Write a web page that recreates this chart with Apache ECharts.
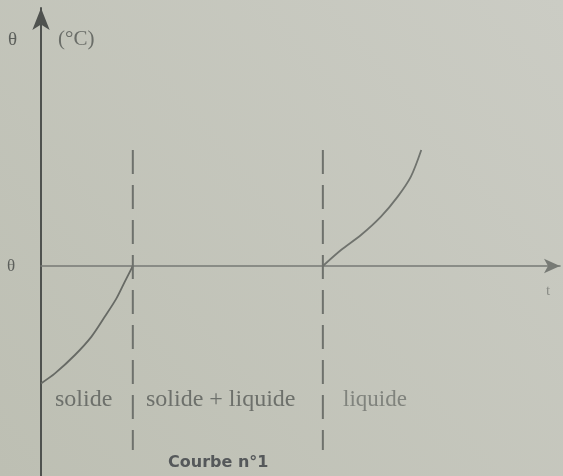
<!DOCTYPE html>
<html>
<head>
<meta charset="utf-8">
<script src="https://cdn.jsdelivr.net/npm/echarts@6/dist/echarts.min.js"></script>
<style>
    html, body { margin: 0; padding: 0; }
    #main { width: 563px; height: 476px; }
</style>
</head>
<body>
<div id="main"></div>
<script>
// courbe de chauffage : solide -> fusion -> liquide
var solide_t = [0, 0.7, 1.7, 2.53, 3.2, 3.78, 4.2, 4.6];
var solide_theta = [-5.87, -5.37, -4.45, -3.53, -2.53, -1.62, -0.78, 0];
var liquide_t = [14.12, 15.03, 16.03, 17.03, 17.87, 18.53, 19.05];
var liquide_theta = [0, 0.8, 1.55, 2.47, 3.47, 4.47, 5.8];
// debut et fin de la fusion
var fusion_t = [4.6, 14.12];
var dash_theta = [5.8, -9.2];
var zones = ["solide", "solide + liquide", "liquide"];

var myChart = echarts.init(document.getElementById("main"));

function pairs(xs, ys) {
    var out = [];
    for (let i = 0; i < xs.length; i++) {
        out.push([xs[i], ys[i]]);
    }
    return out;
}

var inkColor = "#5c5f5b";
var serif = "Liberation Serif";

var series = [
    {
        type: "line",
        data: pairs(solide_t, solide_theta),
        smooth: 0.3,
        symbol: "none",
        lineStyle: { color: "#676a65", width: 1.8 },
    },
    {
        type: "line",
        data: pairs(liquide_t, liquide_theta),
        smooth: 0.3,
        symbol: "none",
        lineStyle: { color: "#70736e", width: 1.8 },
    },
];
for (let i = 0; i < fusion_t.length; i++) {
    series.push({
        type: "line",
        data: [
            [fusion_t[i], dash_theta[0]],
            [fusion_t[i], dash_theta[1]],
        ],
        symbol: "none",
        lineStyle: { color: "#6e716c", width: 2, type: [24, 11] },
    });
}

var option = {
    backgroundColor: {
        type: "linear", x: 1, y: 0, x2: 0, y2: 1,
        colorStops: [
            { offset: 0, color: "#cbccc4" },
            { offset: 1, color: "#bdbfb3" },
        ],
    },
    animation: false,
    grid: { left: 41, right: 3, top: 8, bottom: 0 },
    xAxis: {
        type: "value",
        min: 0,
        max: 26,
        axisLine: {
            onZero: true,
            symbol: ["none", "arrow"],
            symbolSize: [11, 16],
            lineStyle: { color: "#777a75", width: 1.6 },
        },
        axisTick: { show: false },
        axisLabel: { show: false },
        splitLine: { show: false },
    },
    yAxis: {
        type: "value",
        min: -10.5,
        max: 12.9,
        axisLine: {
            onZero: false,
            symbol: ["none", "arrow"],
            symbolSize: [13, 22],
            lineStyle: { color: "#4f524f", width: 2 },
        },
        axisTick: { show: false },
        axisLabel: { show: false },
        splitLine: { show: false },
    },
    graphic: [
        {
            type: "text", left: 8, top: 31,
            style: { text: "θ", font: "19px " + serif, fill: inkColor },
        },
        {
            type: "text", left: 58, top: 29,
            style: { text: "(°C)", font: "21px " + serif, fill: "#6a6d68" },
        },
        {
            type: "text", left: 7, top: 258,
            style: { text: "θ", font: "17px " + serif, fill: inkColor },
        },
        {
            type: "text", left: 546, top: 284,
            style: { text: "t", font: "15px " + serif, fill: "#8a8c86" },
        },
        {
            type: "text", left: 55, top: 388,
            style: { text: zones[0], font: "24px " + serif, fill: "#6d706b" },
        },
        {
            type: "text", left: 146, top: 388,
            style: { text: zones[1], font: "24px " + serif, fill: "#6d706b" },
        },
        {
            type: "text", left: 343, top: 388,
            style: { text: zones[2], font: "23px " + serif, fill: "#80837d" },
        },
        {
            type: "text", left: 168, top: 455,
            style: {
                text: "Courbe n°1",
                font: "bold 16px 'DejaVu Sans'",
                fill: "#55585a",
            },
        },
    ],
    series: series,
};
myChart.setOption(option);
</script>
</body>
</html>
